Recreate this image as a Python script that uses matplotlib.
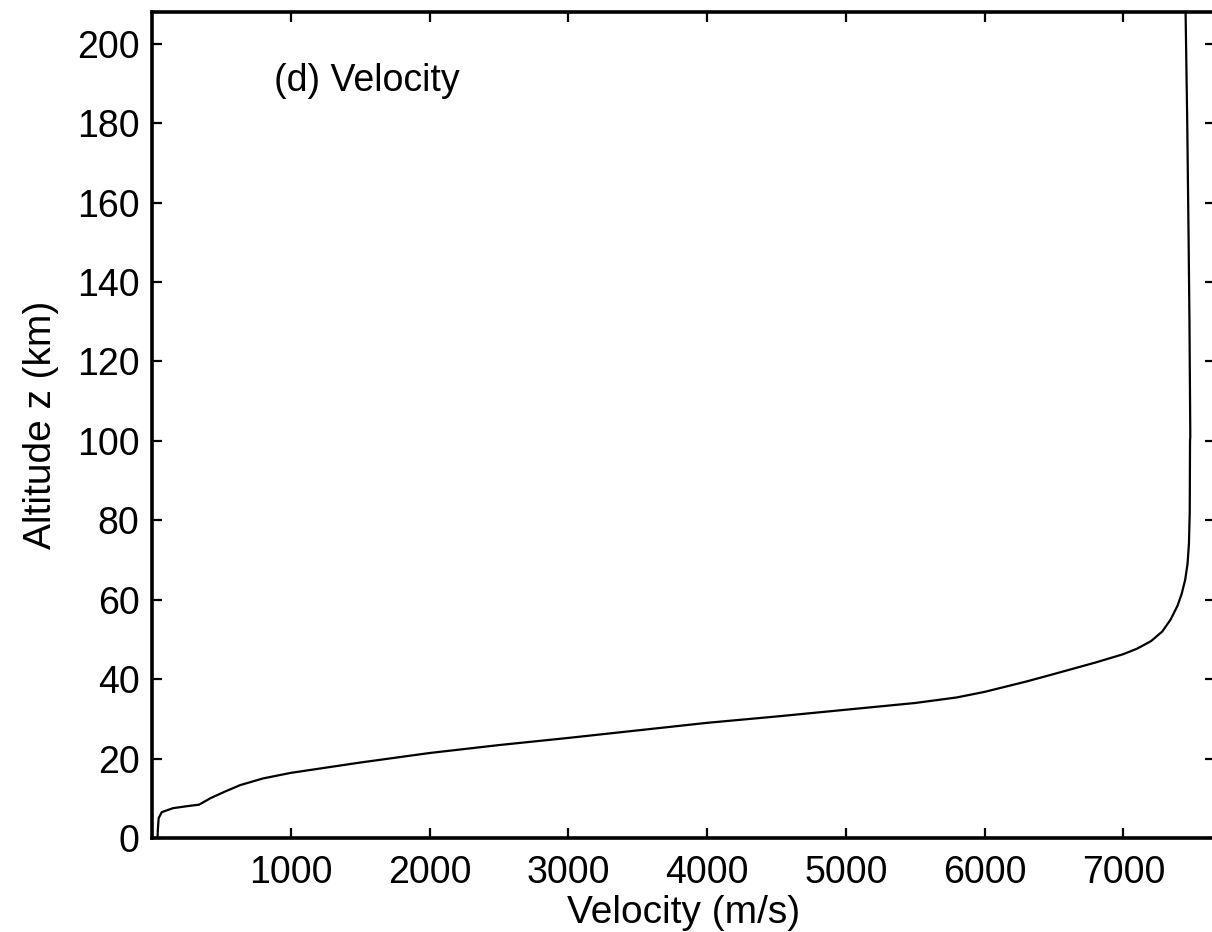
# velocity vs altitude profile, panel (d)

import matplotlib.pyplot as plt

plt.rcParams['font.family'] = ['Liberation Sans', 'DejaVu Sans']

# -------------------------------------------------------------------
# data -- velocity (m/s) against altitude (km)
# -------------------------------------------------------------------
velocity = [40, 42, 48, 70, 150, 250, 340, 420, 520, 634, 800, 1000,
            1500, 2000, 2500, 3000, 3500, 4000, 4500, 5000, 5500,
            5800, 6000, 6300, 6500, 6800, 7000, 7100, 7200, 7280,
            7340, 7390, 7420, 7445, 7462, 7472, 7478, 7480,
            7482, 7476, 7470, 7460, 7448]
altitude = [0, 2, 5, 6.5, 7.5, 8.0, 8.4, 10.0, 11.6, 13.3, 15.0, 16.4,
            19.0, 21.4, 23.4, 25.2, 27.1, 29.0, 30.6, 32.3, 34.0,
            35.4, 36.8, 39.4, 41.3, 44.2, 46.3, 47.7, 49.6, 52.0,
            55.0, 58.5, 61.5, 65.0, 69.0, 74.0, 82.0, 100.0,
            101.0, 130.0, 150.0, 180.0, 208.0]

x_ticks = [1000, 2000, 3000, 4000, 5000, 6000, 7000]
y_ticks = list(range(0, 201, 20))

# -------------------------------------------------------------------
# figure -- 1212 x 932 px, right spine sits just past the image edge
# -------------------------------------------------------------------
fig = plt.figure(figsize=(12.12, 9.32), dpi=100)
ax = fig.add_axes([152 / 1212, 94 / 932, (1215 - 152) / 1212, (838 - 12) / 932])

ax.plot(velocity, altitude, color='black', linewidth=1.6)

ax.set_xlim(0, 7660)
ax.set_ylim(0, 208)
ax.set_xticks(x_ticks)
ax.set_yticks(y_ticks)

ax.tick_params(direction='in', length=7, width=1.6, labelsize=27,
               top=True, right=True)
ax.tick_params(axis='x', pad=12)
ax.tick_params(axis='y', pad=9)

for s in ax.spines.values():
    s.set_linewidth(2.6)

ax.set_xlabel("Velocity (m/s)", fontsize=28, labelpad=3)
ax.set_ylabel("Altitude z (km)", fontsize=28, labelpad=13)

ax.text(880, 190.5, "(d) Velocity", fontsize=27, ha='left', va='center')

fig.savefig("out.png", dpi=100)
